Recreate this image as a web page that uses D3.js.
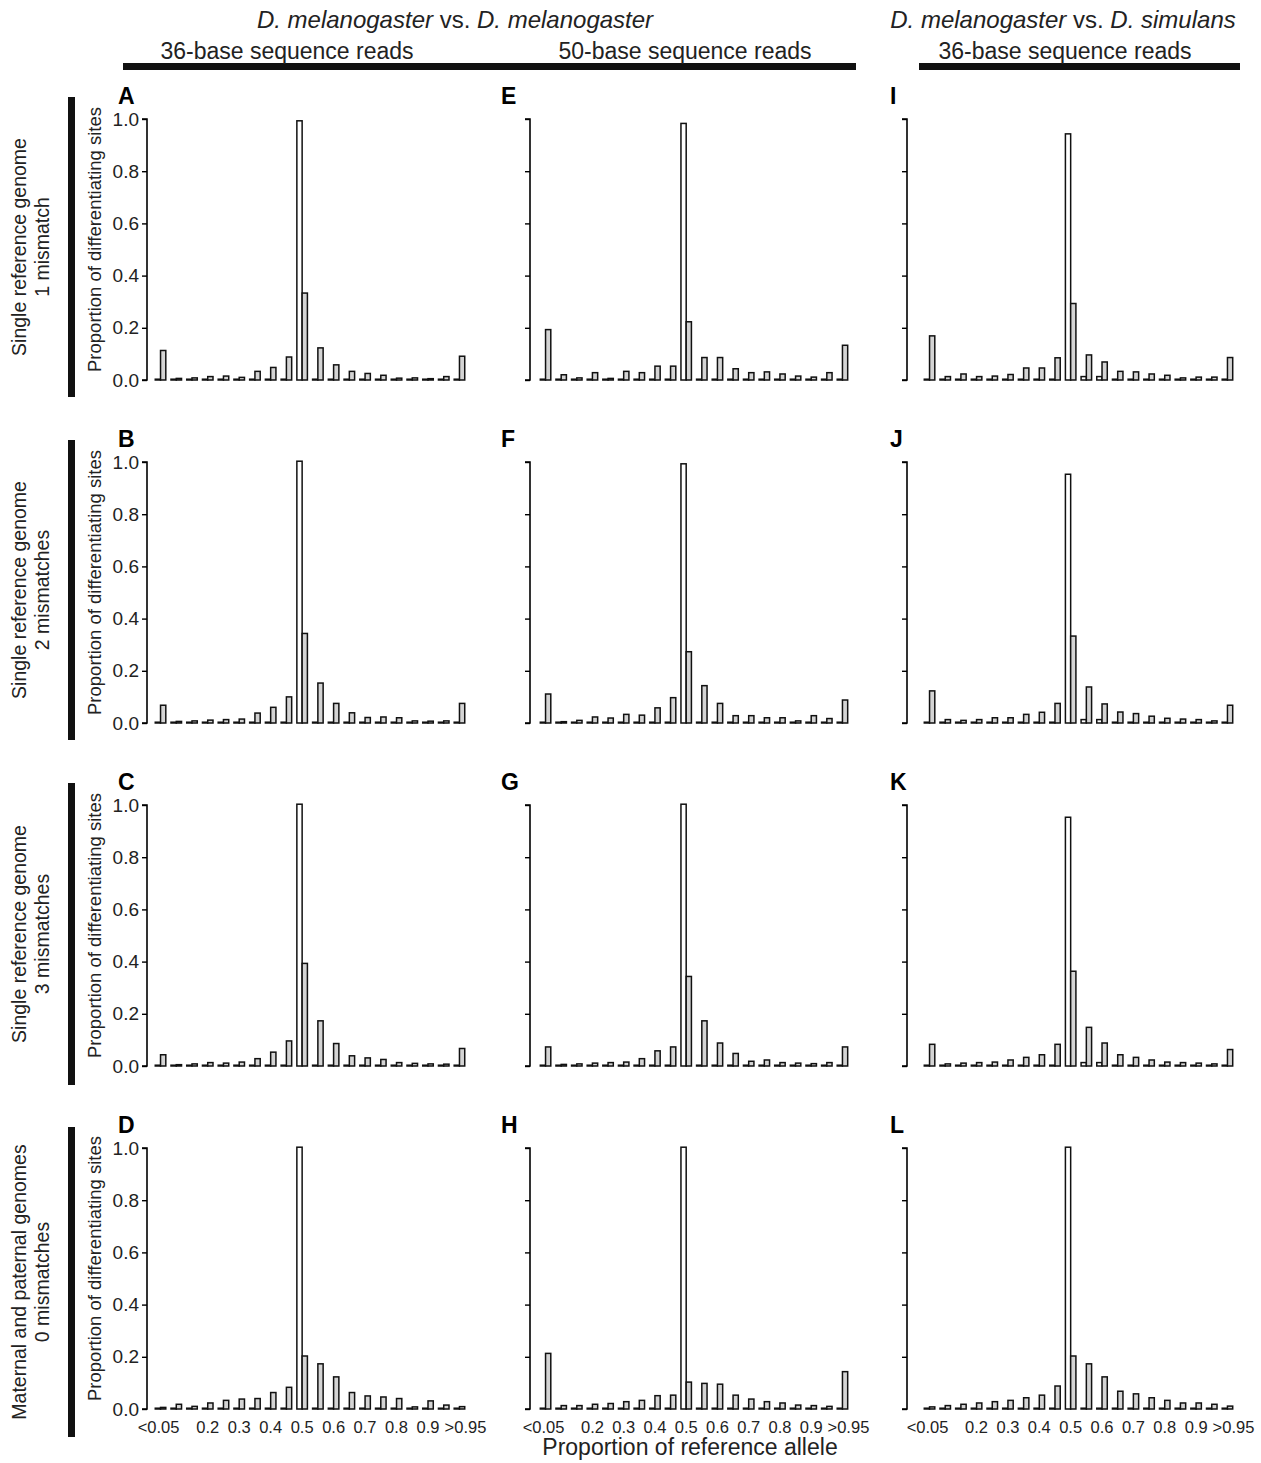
<!DOCTYPE html>
<html><head><meta charset="utf-8">
<script src="https://cdn.jsdelivr.net/npm/d3@7"></script>
<style>body{margin:0;background:#fff}svg{font-family:"Liberation Sans",Arial,sans-serif}</style>
</head><body>
<svg id="c" width="1261" height="1463"></svg>
<script>
const bins = d3.range(20);
const xTickLabels = [[0,"<0.05"],[3,"0.2"],[5,"0.3"],[7,"0.4"],[9,"0.5"],[11,"0.6"],[13,"0.7"],[15,"0.8"],[17,"0.9"],[19,">0.95"]];
const yTicks = [0,0.2,0.4,0.6,0.8,1.0];
const panelLetters = ["A","B","C","D","E","F","G","H","I","J","K","L"];
const rowLabels = [["Single reference genome","1 mismatch"],["Single reference genome","2 mismatches"],["Single reference genome","3 mismatches"],["Maternal and paternal genomes","0 mismatches"]];

const grayA=[0.11,0.003,0.005,0.01,0.012,0.007,0.03,0.045,0.085,0.33,0.12,0.055,0.03,0.022,0.015,0.004,0.005,0.002,0.01,0.088];
const grayB=[0.065,0.003,0.005,0.008,0.01,0.012,0.035,0.057,0.097,0.34,0.15,0.072,0.036,0.018,0.02,0.017,0.005,0.004,0.005,0.072];
const grayC=[0.04,0.002,0.005,0.01,0.008,0.012,0.025,0.05,0.093,0.39,0.17,0.083,0.036,0.028,0.022,0.01,0.007,0.005,0.004,0.064];
const grayD=[0.003,0.015,0.007,0.02,0.03,0.035,0.037,0.06,0.08,0.2,0.17,0.12,0.06,0.047,0.043,0.037,0.005,0.028,0.012,0.006];
const grayE=[0.19,0.017,0.005,0.025,0.003,0.03,0.025,0.05,0.05,0.22,0.083,0.083,0.04,0.025,0.028,0.02,0.012,0.008,0.025,0.13];
const grayF=[0.108,0.002,0.007,0.02,0.016,0.03,0.027,0.055,0.094,0.27,0.14,0.072,0.025,0.025,0.017,0.017,0.005,0.025,0.014,0.085];
const grayG=[0.07,0.003,0.005,0.008,0.01,0.012,0.025,0.055,0.07,0.34,0.17,0.085,0.045,0.015,0.02,0.01,0.008,0.006,0.01,0.07];
const grayH=[0.21,0.01,0.01,0.015,0.018,0.025,0.03,0.048,0.05,0.1,0.095,0.092,0.05,0.035,0.025,0.02,0.012,0.01,0.007,0.14];
const grayI=[0.166,0.01,0.02,0.01,0.012,0.018,0.043,0.043,0.082,0.29,0.093,0.066,0.03,0.028,0.02,0.015,0.005,0.008,0.008,0.083];
const grayJ=[0.12,0.01,0.007,0.01,0.017,0.017,0.03,0.038,0.072,0.33,0.135,0.07,0.039,0.033,0.023,0.015,0.012,0.01,0.005,0.065];
const grayK=[0.08,0.005,0.008,0.01,0.012,0.02,0.03,0.04,0.08,0.36,0.145,0.085,0.04,0.03,0.02,0.012,0.01,0.008,0.005,0.06];
const grayL=[0.005,0.01,0.015,0.02,0.025,0.03,0.04,0.05,0.085,0.2,0.17,0.12,0.065,0.055,0.04,0.03,0.02,0.02,0.015,0.008];
const whitePeak=[0.99,1.0,1.0,1.0, 0.98,0.99,1.0,1.0, 0.94,0.95,0.95,1.0];
const whiteSmallAfterPeak=[0,0,0,0, 0,0,0,0, 0.01,0.01,0.01,0];
const grays=[grayA,grayB,grayC,grayD,grayE,grayF,grayG,grayH,grayI,grayJ,grayK,grayL];

const svg=d3.select("#c");
const colAxisX=[147,530,907], colFirst=[163,548,932], colLast=[457,840,1225];
const rowTop=[119,462,805,1148], plotH=261;

for(let p=0;p<12;p++){
  const col=Math.floor(p/4), row=p%4;
  const step=(colLast[col]-colFirst[col])/19;
  const x=d3.scaleBand().domain(bins).range([colFirst[col]-step/2,colLast[col]+step/2]).paddingInner(0.33).paddingOuter(0);
  const sub=d3.scaleBand().domain(["w","g"]).range([0,x.bandwidth()]);
  const y=d3.scaleLinear().domain([0,1]).range([rowTop[row]+plotH,rowTop[row]]);
  const g=svg.append("g");
  const ax=g.append("g").attr("transform",`translate(${colAxisX[col]},0)`)
    .call(d3.axisLeft(y).tickValues(yTicks).tickSize(5).tickPadding(3).tickFormat(col===0?d3.format(".1f"):""));
  ax.attr("font-size",null).attr("font-family",null);
  ax.select(".domain").attr("stroke-width",1.6).attr("d",`M-5,${y(1)}H0V${y(0)}H-5`);
  ax.selectAll(".tick line").attr("stroke-width",1.4);
  ax.selectAll(".tick text").style("font-size","19px").attr("fill","#222");
  const white=bins.map(i=>i===9?whitePeak[p]:(i===10||i===11?whiteSmallAfterPeak[p]:0));
  const draw=(vals,key,fill)=>g.selectAll("rect."+key).data(bins).join("rect").attr("class",key)
    .attr("x",i=>x(i)+sub(key)).attr("width",sub.bandwidth())
    .attr("y",i=>y(vals[i])-0.8).attr("height",i=>Math.max(0,y(0)-y(vals[i]))+0.8)
    .attr("fill",fill).attr("stroke","#111").attr("stroke-width",1.5);
  draw(white,"w","#fff"); draw(grays[p],"g","#d4d4d4");
  g.append("text").attr("x",colAxisX[col]-(col===2?17:29)).attr("y",rowTop[row]-15).attr("font-weight","bold").style("font-size","23px").text(panelLetters[p]);
  if(col===0){
    g.append("text").attr("transform",`translate(101,${rowTop[row]+plotH/2-10}) rotate(-90)`).attr("text-anchor","middle").style("font-size","18.5px").attr("fill","#222").text("Proportion of differentiating sites");
  }
  if(row===3){
    g.selectAll("text.xl").data(xTickLabels).join("text").attr("class","xl")
      .attr("x",d=>x(d[0])+x.bandwidth()/2+(d[0]===0?-2:(d[0]===19?6:0))).attr("y",rowTop[row]+plotH+24).attr("text-anchor","middle").style("font-size","16.5px").attr("fill","#222").text(d=>d[1]);
  }
}
const rowBars=[[97,397],[440,740],[783,1085],[1127,1437]];
rowBars.forEach((b,i)=>{
  svg.append("rect").attr("x",68).attr("y",b[0]).attr("width",7).attr("height",b[1]-b[0]).attr("fill","#111");
  const t=svg.append("text").attr("transform",`translate(26,${(b[0]+b[1])/2}) rotate(-90)`).attr("text-anchor","middle").style("font-size","19.5px").attr("fill","#222");
  t.append("tspan").attr("x",0).attr("dy",0).text(rowLabels[i][0]);
  t.append("tspan").attr("x",0).attr("dy",23).text(rowLabels[i][1]);
});
const hdr=(x,y,a,b)=>{const t=svg.append("text").attr("x",x).attr("y",y).attr("text-anchor","middle").style("font-size","24px").attr("fill","#222");
  t.append("tspan").attr("font-style","italic").text(a);t.append("tspan").text(" vs. ");t.append("tspan").attr("font-style","italic").text(b);};
hdr(455,28,"D. melanogaster","D. melanogaster");
hdr(1063,28,"D. melanogaster","D. simulans");
svg.append("rect").attr("x",123).attr("y",63).attr("width",733).attr("height",7).attr("fill","#111");
svg.append("rect").attr("x",919).attr("y",63).attr("width",321).attr("height",7).attr("fill","#111");
[[287,"36-base sequence reads"],[685,"50-base sequence reads"],[1065,"36-base sequence reads"]].forEach(d=>
  svg.append("text").attr("x",d[0]).attr("y",59).attr("text-anchor","middle").style("font-size","23px").attr("fill","#222").text(d[1]));
svg.append("text").attr("x",690).attr("y",1455).attr("text-anchor","middle").style("font-size","23px").attr("fill","#222").text("Proportion of reference allele");
</script></body></html>
